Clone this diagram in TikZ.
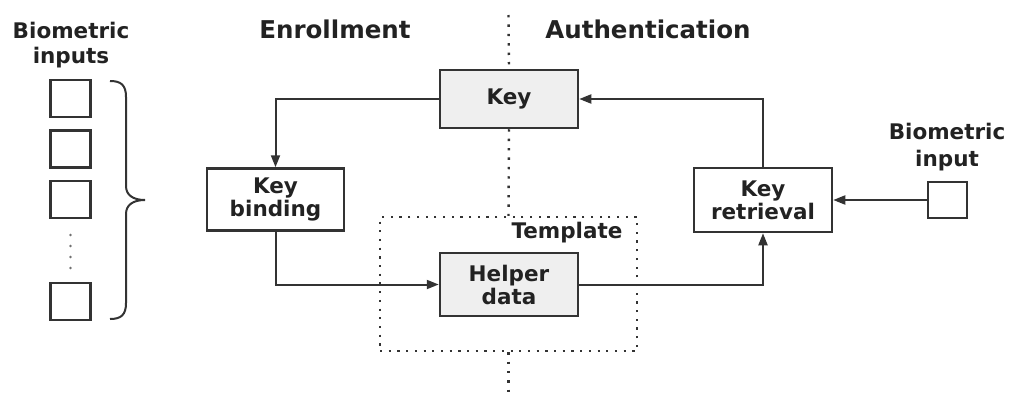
\documentclass[tikz,border=0pt]{standalone}
\usepackage{fontspec}
\setmainfont{DejaVu Sans}
\usetikzlibrary{arrows.meta}
\definecolor{ln}{HTML}{333333}
\definecolor{txt}{HTML}{222222}
\definecolor{boxfill}{HTML}{EFEFEF}
\begin{document}
\begin{tikzpicture}[x=1pt,y=-1pt,
  every node/.style={font=\fontsize{21.5}{23}\selectfont\bfseries, text=txt, align=center, inner sep=0pt},
  blk/.style={draw=ln, line width=2.5pt, minimum width=137pt, minimum height=62pt},
  gblk/.style={blk, fill=boxfill},
  inbox/.style={draw=ln, line width=2.2pt, minimum width=40pt, minimum height=37pt},
  arr/.style={draw=ln, line width=2pt, -{Triangle[length=12pt,width=9pt]}},
  dots/.style={draw=ln, line width=2.4pt, dash pattern=on 2.4pt off 7pt},
  title/.style={font=\fontsize{24.5}{27}\selectfont\bfseries}]
\useasboundingbox (0,0) rectangle (1010,399);
% titles
\node[title] (enr) at (335,29) {Enrollment};
\node[title] (auth) at (648,29) {Authentication};
\node[font=\fontsize{21.5}{25}\selectfont\bfseries] (bilab) at (71,45) {Biometric\\inputs};
% input squares
\node[inbox] (i1) at (70.5,98.5) {};
\node[inbox] (i2) at (70.5,149) {};
\node[inbox] (i3) at (70.5,199.5) {};
\node[inbox] (i4) at (70.5,301.5) {};
\foreach \yy in {235,246,257,268} \fill[ln!70] (70.5,\yy) circle (1.4pt);
% brace
\draw[ln, line width=2pt] (110,81) .. controls (121,81) and (126,85) .. (126,97)
  -- (126,186) .. controls (126,195) and (133,200) .. (145,200)
  .. controls (133,200) and (126,205) .. (126,214)
  -- (126,303) .. controls (126,315) and (121,319) .. (110,319);
% template
\node[draw=ln, line width=2.2pt, dash pattern=on 2.2pt off 6.5pt, minimum width=257pt, minimum height=134pt] (tmpl) at (508.5,284) {};
\node (tlab) at (567,233) {Template};
% main blocks
\node[gblk, minimum width=138pt, minimum height=58pt] (key) at (509,99) {Key};
\node[blk] (kb) at (275.5,199.5) {Key\\binding};
\node[gblk, minimum width=138pt, minimum height=63pt] (hd) at (509,284.5) {Helper\\data};
\node[blk, minimum width=138pt, minimum height=64pt] (kr) at (763,200) {Key\\retrieval};
% biometric input
\node[font=\fontsize{21.5}{27}\selectfont\bfseries] (bilab2) at (947,147) {Biometric\\input};
\node[inbox, minimum width=39pt, minimum height=36pt] (bin) at (947.5,200) {};
% dotted separator
\coordinate (s0) at (508.5,15);
\coordinate (s1) at (508.5,395);
\draw[dots] (s0) -- (key.north);
\draw[dots] (key.south) -- (tmpl.north);
\draw[dots] (tmpl.south) -- (s1);
% connectors
\draw[arr] (key.west) -| (kb.north);
\draw[arr] (kb.south) |- (hd.west);
\draw[arr] (hd.east) -| (kr.south);
\draw[arr] (kr.north) |- (key.east);
\draw[arr] (bin.west) -- (kr.east);
\end{tikzpicture}
\end{document}
